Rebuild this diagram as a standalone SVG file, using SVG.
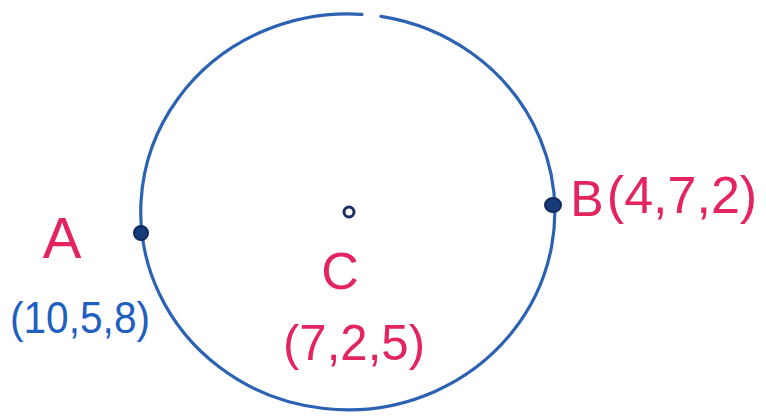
<svg xmlns="http://www.w3.org/2000/svg" width="766" height="417" viewBox="0 0 766 417">
<style>
.pink{fill:#e3245f;font-family:"Liberation Sans",Arial,sans-serif}
.blue{fill:#1f5fbf;font-family:"Liberation Sans",Arial,sans-serif}
.dot{fill:#163a7a;stroke:#0f2a5e;stroke-width:2}
</style>
<rect width="766" height="417" fill="#ffffff"/>
<g id="circle">
<path d="M 381,16.4 A 207 198 0 1 1 362,14.3" fill="none" stroke="#2c62b4" stroke-width="3.2" stroke-linecap="round"/>
</g>
<g id="nodeA">
<circle class="dot" cx="141" cy="233" r="7"/>
<text class="pink" x="62" y="258" font-size="58" text-anchor="middle">A</text>
<text class="blue" x="80" y="333" font-size="44" text-anchor="middle" textLength="140" lengthAdjust="spacingAndGlyphs">(10,5,8)</text>
</g>
<g id="nodeC">
<circle cx="349" cy="212" r="5" fill="#ffffff" stroke="#1b2f66" stroke-width="3"/>
<text class="pink" x="340" y="289" font-size="52" text-anchor="middle">C</text>
<text class="pink" x="354" y="360" font-size="50" text-anchor="middle" textLength="142" lengthAdjust="spacingAndGlyphs">(7,2,5)</text>
</g>
<g id="nodeB">
<ellipse class="dot" cx="553" cy="205" rx="8" ry="7"/>
<text class="pink" x="587" y="216" font-size="50" text-anchor="middle">B</text>
<text class="pink" x="682" y="213" font-size="52" text-anchor="middle">(4,7,2)</text>
</g>
</svg>
